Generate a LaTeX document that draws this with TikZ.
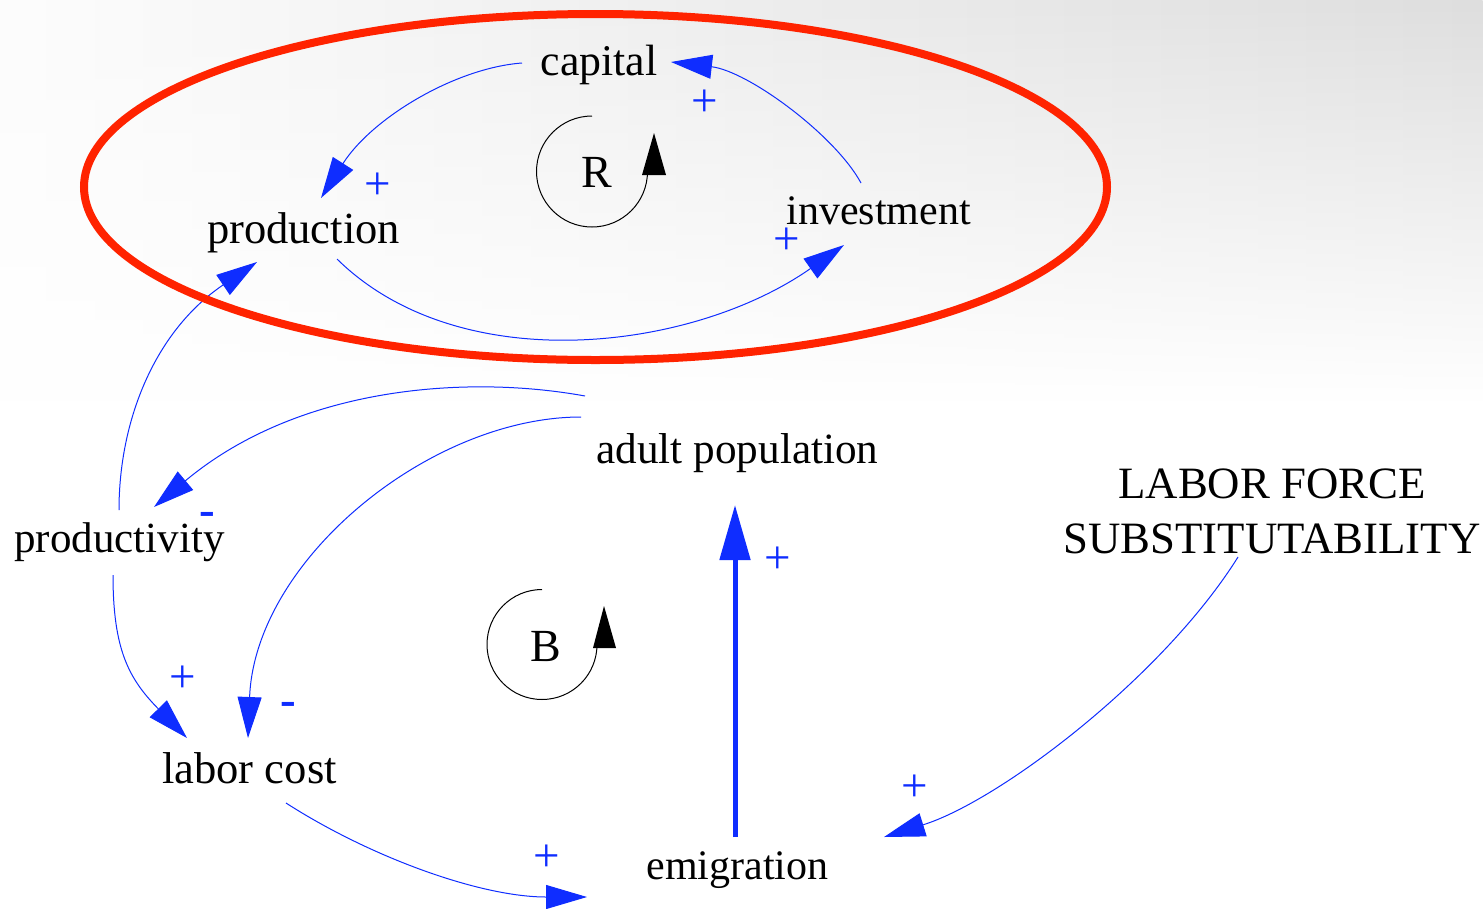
\documentclass[tikz,border=0pt]{standalone}
\usepackage{fontspec}
\setmainfont{Liberation Serif}
\usetikzlibrary{arrows.meta,calc,fadings}
\definecolor{cldblue}{RGB}{15,45,255}
\definecolor{loopred}{RGB}{255,35,0}
\begin{document}
\begin{tikzpicture}[x=1pt,y=-1pt,
  var/.style={inner sep=0pt, font=\fontsize{#1}{55}\selectfont, text=black},
  var/.default=42,
  looplabel/.style={inner sep=0pt, font=\fontsize{46}{55}\selectfont, text=black},
  pol/.style={inner sep=0pt, font=\fontsize{47}{50}\selectfont, text=cldblue},
  minuspol/.style={inner sep=0pt, anchor=base, font=\fontsize{47}{50}\selectfont\bfseries, text=cldblue},
  link/.style={draw=cldblue, line width=1pt, -{Triangle[length=41pt,width=24pt]}},
  thicklink/.style={draw=cldblue, line width=5pt, -{Triangle[length=55pt,width=30pt]}},
  looparc/.style={draw=black, line width=1pt},
  loophead/.style={fill=black},
  boundary/.style={draw=loopred, line width=8pt},
]
\useasboundingbox (0,0) rectangle (1483,908);
\fill[white] (0,0) rectangle (1483,908);
\shade[left color=black!1, right color=black!13, path fading=south] (0,0) rectangle (1483,400);

% variables
\node[var=43.8, anchor=base] (capital) at (599,75) {capital};
\node[var=44.5, anchor=base] (production) at (303.5,243) {production};
\node[var, anchor=base] (investment) at (878.5,224) {investment};
\node[var=43.2, anchor=base] (adultpop) at (737.5,463) {adult population};
\node[var=43, anchor=base] (productivity) at (119.5,552) {productivity};
\node[var=44.6, anchor=base] (laborcost) at (249.5,783) {labor cost};
\node[var, anchor=base] (emigration) at (737.5,879) {emigration};
\node[var=44.8, anchor=north, align=center] (lfs) at (1272,469) {LABOR FORCE\\SUBSTITUTABILITY};

% loop labels
\node[looplabel, anchor=base] (R) at (597,187) {R};
\node[looplabel, anchor=base] (B) at (546,661) {B};

% polarities
\node[pol] (p1) at (705,103) {+};
\node[pol] (p2) at (378,186) {+};
\node[pol] (p3) at (787,241) {+};
\node[minuspol] (m1) at (207,525.6) {-};
\node[pol] (p4) at (183,679) {+};
\node[minuspol] (m2) at (288,715.6) {-};
\node[pol] (p5) at (778,560) {+};
\node[pol] (p6) at (547,858) {+};
\node[pol] (p7) at (915,788) {+};

% connectors
\draw[link] ($(capital.base)+(-77,-12)$) .. controls +(-67,5) and +(51,-80) .. ($(production.base)+(17.5,-45)$);
\draw[link] ($(investment.base)+(-17.5,-41)$) .. controls +(-26,-48) and +(77,9) .. ($(capital.base)+(72,-13)$);
\draw[link] ($(production.base)+(33.5,16)$) .. controls +(123,121) and +(-151,106) .. ($(investment.base)+(-34.5,21)$);
\draw[link] ($(productivity.base)+(-0.5,-42)$) .. controls +(0,-90) and +(-102,69) .. ($(production.base)+(-46.5,19)$);
\draw[link] ($(adultpop.base)+(-152.5,-67)$) .. controls +(-115,-21) and +(146,-122) .. ($(productivity.base)+(34.5,-45)$);
\draw[link] ($(adultpop.base)+(-156.5,-46)$) .. controls +(-151,0) and +(7,-178) .. ($(laborcost.base)+(-1.5,-45)$);
\draw[link] ($(productivity.base)+(-6.5,23)$) .. controls +(0,75) and +(-58,-59) .. ($(laborcost.base)+(-62.5,-45)$);
\draw[link] ($(laborcost.base)+(36.5,20)$) .. controls +(84,54) and +(-107,0) .. ($(emigration.base)+(-150.5,18)$);
\draw[link] ($(lfs.north)+(-34,88)$) .. controls +(-75,120) and +(115.5,-36) .. ($(emigration.base)+(146.5,-42)$);
\draw[thicklink] ($(emigration.base)+(-2.5,-42)$) -- ($(adultpop.base)+(-2.5,42)$);

% loop symbols
\draw[looparc] ($(R.base)+(-5,-71)$) arc[start angle=90, end angle=360, radius=55.5pt];
\fill[loophead] ($(R.base)+(45,-12)$) -- ($(R.base)+(69,-12)$) -- ($(R.base)+(57,-54)$) -- cycle;
\draw[looparc] ($(B.base)+(-4,-71.5)$) arc[start angle=90, end angle=360, radius=55pt];
\fill[loophead] ($(B.base)+(47,-13)$) -- ($(B.base)+(70,-13)$) -- ($(B.base)+(58,-55)$) -- cycle;

% reinforcing loop boundary
\draw[boundary] (595.5,187) ellipse [x radius=511.5, y radius=173];
\end{tikzpicture}
\end{document}
